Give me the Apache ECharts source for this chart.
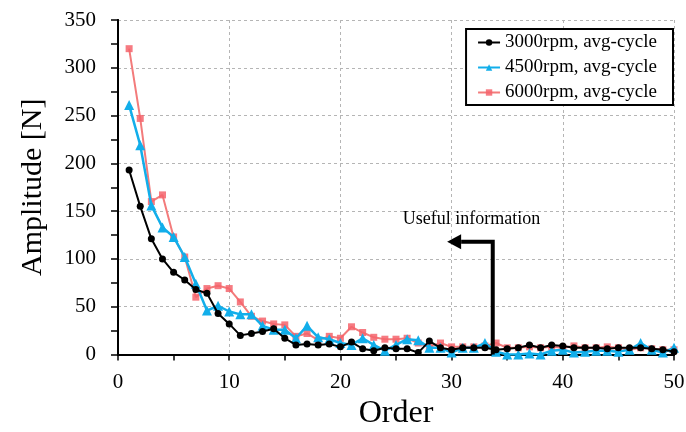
<!DOCTYPE html>
<html>
<head>
<meta charset="utf-8">
<script src="https://cdn.jsdelivr.net/npm/echarts@6/dist/echarts.min.js"></script>
<style>
  html, body { margin: 0; padding: 0; background: #fff; }
  #chart { width: 686px; height: 432px; }
</style>
</head>
<body>
<div id="chart"></div>
<script>
// Harmonic order numbers 1..50
const orders = [];
for (let i = 1; i <= 50; i++) orders.push(i);

// Cycle-averaged amplitudes [N] per order
const rpm3000 = [193, 155, 121, 100, 86, 78, 68, 64, 43, 32,
                 20, 22, 24, 27, 17, 10, 11, 10, 11, 8,
                 13, 6, 4, 7, 6, 6, 2, 14, 7, 5,
                 7, 7, 7, 5, 6, 7, 10, 7, 10, 9,
                 7, 7, 7, 6, 7, 7, 7, 6, 5, 3];
const rpm4500 = [261, 219, 156, 133, 123, 102, 74, 46, 51, 45,
                 42, 42, 30, 26, 26, 17, 30, 18, 16, 12,
                 10, 17, 10, 4, 10, 16, 15, 7, 7, 2,
                 7, 7, 12, 3, 0, 0, 1, 0, 4, 5,
                 2, 3, 4, 4, 3, 5, 12, 5, 2, 7];
const rpm6000 = [320, 247, 160, 167, 123, 102, 60, 69, 72, 69,
                 55, 40, 35, 32, 31, 19, 22, 15, 19, 17,
                 29, 23, 18, 16, 16, 17, 12, 8, 12, 8,
                 8, 8, 9, 12, 7, 7, 8, 7, 8, 7,
                 9, 7, 7, 8, 7, 5, 7, 6, 5, 5];

const seriesNames = ['3000rpm, avg-cycle', '4500rpm, avg-cycle', '6000rpm, avg-cycle'];

// Annotation: elbow arrow (data coords) and its caption
const arrowPath = [[33.7, 0], [33.7, 118], [29.6, 118]];
const noteText = 'Useful information';
const notePos = [25.6, 142];

const pair = arr => arr.map((v, i) => [orders[i], v]);

const chart = echarts.init(document.getElementById('chart'));
const FONT = '"Liberation Serif", "Times New Roman", serif';

const gridLine = { show: true, lineStyle: { color: '#b5b5b5', type: [3, 3], width: 1 } };
const frameAxisLine = { show: true, lineStyle: { color: '#000', width: 2 } };

chart.setOption({
  animation: false,
  backgroundColor: '#fff',
  grid: { left: 118, right: 12, top: 20, bottom: 77.5, containLabel: false, outerBoundsMode: 'none' },
  legend: {
    right: 13, top: 29,
    orient: 'vertical',
    backgroundColor: '#fff',
    borderColor: '#000', borderWidth: 2,
    padding: [4, 16, 3, 11],
    itemGap: 6,
    itemWidth: 22, itemHeight: 8,
    textStyle: { fontFamily: FONT, fontSize: 19, color: '#000' },
    data: seriesNames
  },
  xAxis: [
    {
      type: 'value', min: 0, max: 50, interval: 10,
      name: 'Order', nameLocation: 'middle', nameGap: 43,
      nameTextStyle: { fontFamily: FONT, fontSize: 32, color: '#000' },
      axisLine: frameAxisLine,
      axisTick: { show: true, inside: false, length: 6, lineStyle: { color: '#000', width: 1.5 } },
      minorTick: { show: true, splitNumber: 2, length: 6, lineStyle: { color: '#000', width: 1.5 } },
      axisLabel: { fontFamily: FONT, fontSize: 21, color: '#000', margin: 17 },
      splitLine: gridLine
    },
    {
      // top frame edge
      type: 'value', position: 'top', min: 0, max: 50, interval: 10,
      axisLine: frameAxisLine, axisTick: { show: false }, axisLabel: { show: false },
      splitLine: { show: false }
    }
  ],
  yAxis: [
    {
      type: 'value', min: 0, max: 350, interval: 50,
      name: 'Amplitude [N]', nameLocation: 'middle', nameGap: 70,
      nameTextStyle: { fontFamily: FONT, fontSize: 30, color: '#000' },
      axisLine: frameAxisLine,
      axisTick: { show: true, inside: false, length: 7, lineStyle: { color: '#000', width: 1.5 } },
      minorTick: { show: true, splitNumber: 2, length: 7, lineStyle: { color: '#000', width: 1.5 } },
      axisLabel: { fontFamily: FONT, fontSize: 21, color: '#000', margin: 22 },
      splitLine: gridLine
    },
    {
      // right frame edge
      type: 'value', position: 'right', min: 0, max: 350, interval: 50,
      axisLine: frameAxisLine, axisTick: { show: false }, axisLabel: { show: false },
      splitLine: { show: false }
    }
  ],
  series: [
    {
      name: seriesNames[0], type: 'line', data: pair(rpm3000),
      symbol: 'circle', symbolSize: 7,
      lineStyle: { color: '#000', width: 2 },
      itemStyle: { color: '#000' }, z: 4
    },
    {
      name: seriesNames[1], type: 'line', data: pair(rpm4500),
      symbol: 'triangle', symbolSize: 10,
      lineStyle: { color: '#12aeea', width: 2.5 },
      itemStyle: { color: '#12aeea' }, z: 3
    },
    {
      name: seriesNames[2], type: 'line', data: pair(rpm6000),
      symbol: 'rect', symbolSize: 7,
      lineStyle: { color: '#f37b7b', width: 2 },
      itemStyle: { color: '#f4646c', opacity: 0.85 }, z: 2
    }
  ]
});

// Elbow arrow and caption placed through the axis scales
const pts = arrowPath.map(p => chart.convertToPixel({ xAxisIndex: 0, yAxisIndex: 0 }, p));
const tip = pts[pts.length - 1];
const head = 14;
const shaftEnd = [tip[0] + head, tip[1]];
const textPx = chart.convertToPixel({ xAxisIndex: 0, yAxisIndex: 0 }, notePos);
chart.setOption({
  graphic: [
    {
      type: 'polyline', z: 10,
      shape: { points: [pts[0], pts[1], shaftEnd] },
      style: { stroke: '#000', lineWidth: 4, fill: null, lineJoin: 'miter' }
    },
    {
      type: 'polygon', z: 10,
      shape: { points: [[tip[0], tip[1]], [tip[0] + head, tip[1] - 7.5], [tip[0] + head, tip[1] + 7.5]] },
      style: { fill: '#000' }
    },
    {
      type: 'text', z: 10,
      x: textPx[0], y: textPx[1],
      style: {
        text: noteText, fill: '#000',
        font: '18px ' + FONT,
        textAlign: 'left', textVerticalAlign: 'middle'
      }
    }
  ]
});
</script>
</body>
</html>
